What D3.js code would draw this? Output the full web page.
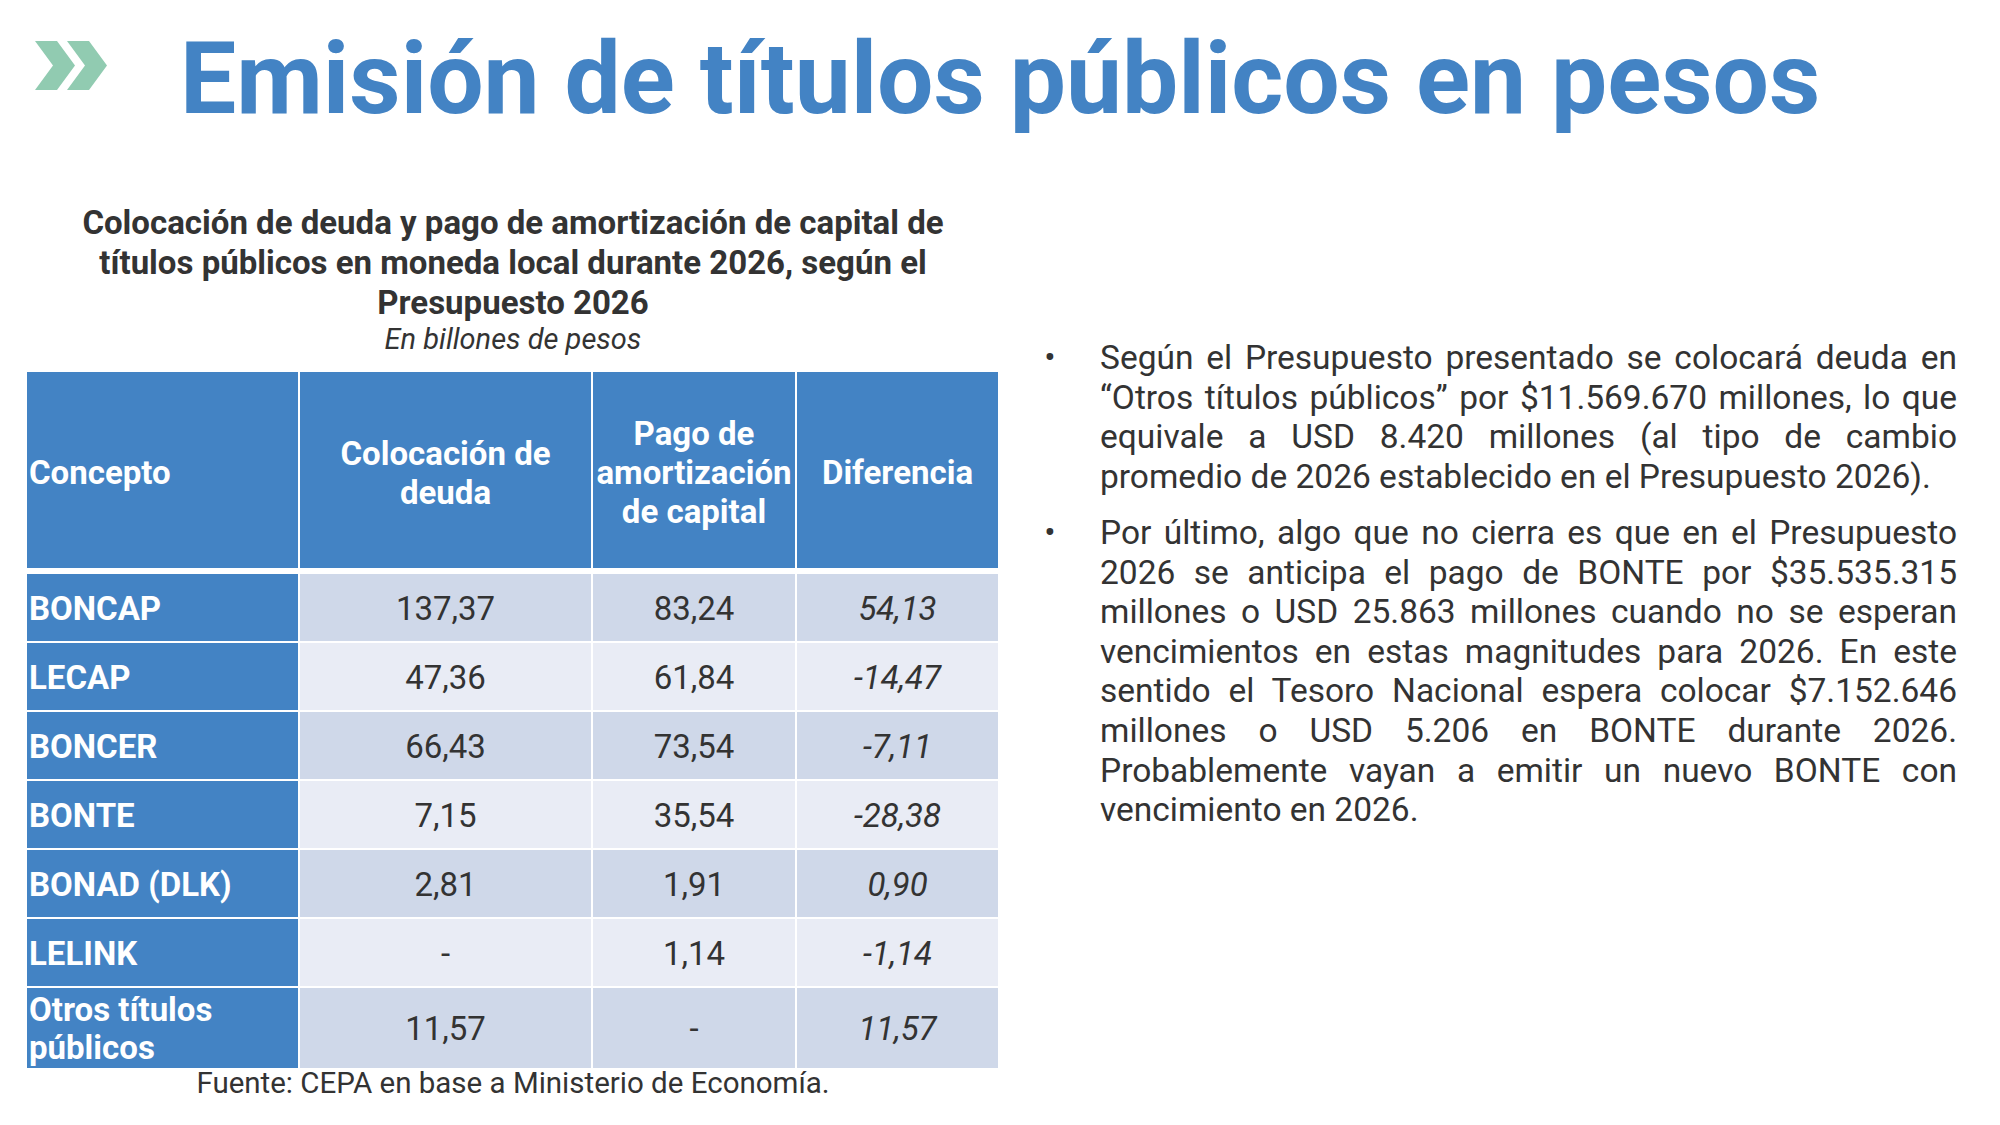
<!DOCTYPE html>
<html>
<head>
<meta charset="utf-8">
<script src="https://cdn.jsdelivr.net/npm/d3@7"></script>
<style>
    body { margin: 0; background: #ffffff; }
    text { font-family: Roboto, "Noto Sans", sans-serif; }
</style>
</head>
<body>
<div id="chart"></div>
<script>

// data (billones de pesos)
var concepts = [["BONCAP"], ["LECAP"], ["BONCER"], ["BONTE"], ["BONAD (DLK)"], ["LELINK"], ["Otros títulos", "públicos"]];
var colocacion = [137.37, 47.36, 66.43, 7.15, 2.81, null, 11.57];
var pago = [83.24, 61.84, 73.54, 35.54, 1.91, 1.14, null];
var diferencia = [54.13, -14.47, -7.11, -28.38, 0.90, -1.14, 11.57];
var headers = [["Concepto"], ["Colocación de", "deuda"], ["Pago de", "amortización", "de capital"], ["Diferencia"]];

var title = "Emisión de títulos públicos en pesos";
var subtitle = ["Colocación de deuda y pago de amortización de capital de",
    "títulos públicos en moneda local durante 2026, según el",
    "Presupuesto 2026"];
var unitNote = "En billones de pesos";
var source = "Fuente: CEPA en base a Ministerio de Economía.";
var bullets = [
    ["Según el Presupuesto presentado se colocará deuda en",
     "“Otros títulos públicos” por $11.569.670 millones, lo que",
     "equivale a USD 8.420 millones (al tipo de cambio",
     "promedio de 2026 establecido en el Presupuesto 2026)."],
    ["Por último, algo que no cierra es que en el Presupuesto",
     "2026 se anticipa el pago de BONTE por $35.535.315",
     "millones o USD 25.863 millones cuando no se esperan",
     "vencimientos en estas magnitudes para 2026. En este",
     "sentido el Tesoro Nacional espera colocar $7.152.646",
     "millones o USD 5.206 en BONTE durante 2026.",
     "Probablemente vayan a emitir un nuevo BONTE con",
     "vencimiento en 2026."]
];

var blue = "#4383c4";
var dark = "#333333";

var width = 2000, height = 1125;

var svg = d3.select("#chart").append("svg")
    .attr("width", width)
    .attr("height", height);

svg.append("rect")
    .attr("width", width)
    .attr("height", height)
    .attr("fill", "#ffffff");

// double chevron
svg.append("path")
    .attr("d", "M35,41H57L75,65.5L57,90H35L53,65.5Z M67,41H89L107,65.5L89,90H67L85,65.5Z")
    .attr("fill", "#91cbb1");

svg.append("text")
    .attr("x", 180)
    .attr("y", 113)
    .attr("font-size", 100)
    .attr("font-weight", 700)
    .attr("fill", blue)
    .text(title);

// table title
svg.append("g")
    .selectAll("text")
    .data(subtitle)
    .enter()
    .append("text")
    .attr("x", 513)
    .attr("y", function(d, i) { return 234 + i * 40; })
    .attr("text-anchor", "middle")
    .attr("font-size", 33)
    .attr("font-weight", 700)
    .attr("fill", dark)
    .text(function(d) { return d; });

svg.append("text")
    .attr("x", 513)
    .attr("y", 349)
    .attr("text-anchor", "middle")
    .attr("font-size", 29)
    .attr("font-style", "italic")
    .attr("fill", dark)
    .text(unitNote);

// table
var es = d3.formatLocale({decimal: ",", thousands: ".", grouping: [3], currency: ["$", ""], minus: "-"});
var fmt = es.format(".2f");
function cellText(v) { return v === null ? "-" : fmt(v); }

var x = d3.scaleLinear()
    .domain([0, 1, 2, 3, 4])
    .range([27, 300, 593, 797, 1000]);
var y = d3.scaleLinear()
    .domain([0, 1, 2, 3, 4, 5, 6, 7])
    .range([574, 643, 712, 781, 850, 919, 988, 1070]);
var headTop = 372, headBottom = 568;
var gap = 2;

var rows = concepts.map(function(c, i) {
    return [c, [cellText(colocacion[i])], [cellText(pago[i])], [cellText(diferencia[i])]];
});

function addLines(g, lines, cx, cy, anchor, lh) {
    var first = cy + 12 - (lines.length - 1) * lh / 2;
    g.selectAll("text.l")
        .data(lines)
        .enter()
        .append("text")
        .attr("x", cx)
        .attr("y", function(d, i) { return first + i * lh; })
        .attr("text-anchor", anchor)
        .text(function(d) { return d; });
}

var table = svg.append("g").attr("class", "table").attr("font-size", 33);

// header row
headers.forEach(function(h, j) {
    var g = table.append("g")
        .attr("fill", "#ffffff")
        .attr("font-weight", 700);
    g.append("rect")
        .attr("x", x(j))
        .attr("y", headTop)
        .attr("width", x(j + 1) - x(j) - gap)
        .attr("height", headBottom - headTop)
        .attr("fill", blue);
    var cx = j === 0 ? x(j) + 2 : (x(j) + x(j + 1) - gap) / 2;
    addLines(g, h, cx, (headTop + headBottom) / 2 + 2, j === 0 ? "start" : "middle", 39);
});

// body rows
rows.forEach(function(r, i) {
    r.forEach(function(lines, j) {
        var g = table.append("g");
        var top = y(i), h = y(i + 1) - y(i) - gap;
        g.append("rect")
            .attr("x", x(j))
            .attr("y", top)
            .attr("width", x(j + 1) - x(j) - gap)
            .attr("height", h)
            .attr("fill", j === 0 ? blue : (i % 2 === 0 ? "#cfd8e9" : "#e9ecf5"));
        g.attr("fill", j === 0 ? "#ffffff" : dark)
            .attr("font-weight", j === 0 ? 700 : 400)
            .attr("font-style", j === 3 ? "italic" : "normal");
        var cx = j === 0 ? x(j) + 2 : (x(j) + x(j + 1) - gap) / 2;
        addLines(g, lines, cx, top + h / 2, j === 0 ? "start" : "middle", 38);
    });
});

svg.append("text")
    .attr("x", 513)
    .attr("y", 1093)
    .attr("text-anchor", "middle")
    .attr("font-size", 29.5)
    .attr("fill", dark)
    .text(source);

// bullet text, justified like the slide
var textLeft = 1100, textRight = 1957;
var paraTop = [369, 544], bodyLine = 39.6;

bullets.forEach(function(par, p) {
    var g = svg.append("g")
        .attr("font-size", 33.5)
        .attr("fill", dark);
    g.append("text")
        .attr("x", 1050)
        .attr("y", paraTop[p])
        .attr("text-anchor", "middle")
        .text("•");
    par.forEach(function(line, k) {
        var t = g.append("text")
            .attr("x", textLeft)
            .attr("y", paraTop[p] + k * bodyLine)
            .text(line);
        if (k < par.length - 1) {
            var w = t.node().getComputedTextLength();
            var spaces = line.split(" ").length - 1;
            t.attr("word-spacing", (textRight - textLeft - w) / spaces);
        }
    });
});

</script>
</body>
</html>
